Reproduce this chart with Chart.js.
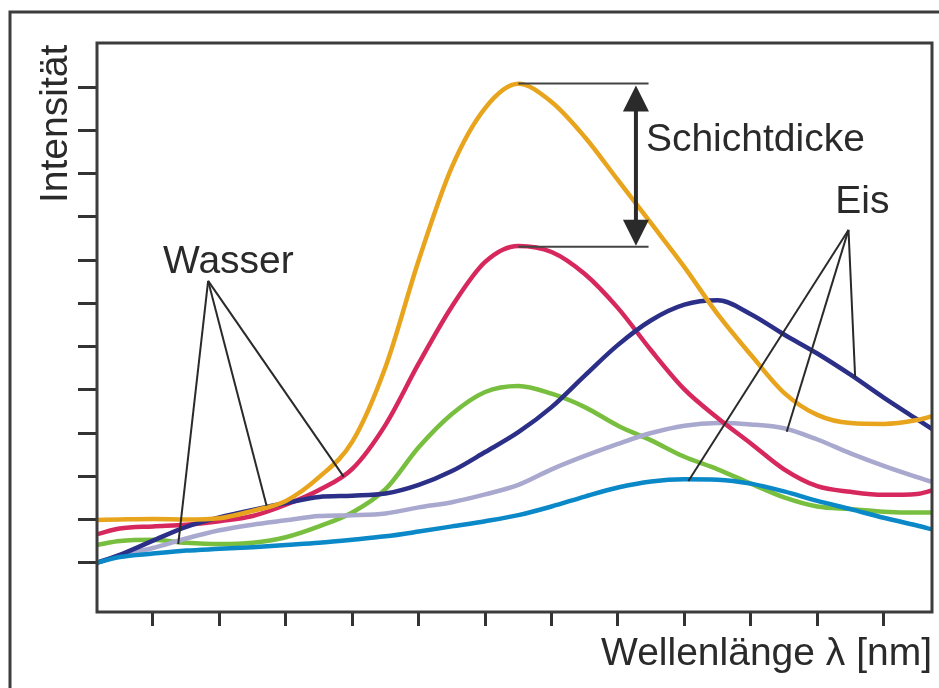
<!DOCTYPE html>
<html><head><meta charset="utf-8">
<script src="https://cdn.jsdelivr.net/npm/chart.js@4.4.1/dist/chart.umd.min.js"></script>
<style>html,body{margin:0;padding:0;background:#fff}canvas{display:block}</style>
</head><body>
<canvas id="c" width="939" height="688"></canvas>
<script>
// Wavelength positions (arbitrary units, x ticks at 1..12)
const wavelength = [0.16,0.5,1,1.5,2,2.5,3,3.5,4,4.5,5,5.5,6,6.5,7,7.5,8,8.5,9,9.5,10,10.5,11,11.5,12,12.5,12.73];
// Wasser (water) spectra
const wasserDick   = [1.99,2.00,2.01,2.00,2.03,2.20,2.43,2.98,3.80,5.53,8.00,10.16,11.52,12.08,11.66,10.85,9.85,8.85,7.84,6.75,5.81,4.93,4.42,4.23,4.21,4.30,4.39];
const wasserMittel = [1.66,1.79,1.84,1.88,1.96,2.08,2.34,2.68,3.17,4.19,5.61,6.93,7.96,8.33,8.19,7.68,6.89,5.91,5.01,4.35,3.76,3.16,2.77,2.64,2.57,2.59,2.67];
const wasserDuenn  = [1.41,1.50,1.53,1.46,1.43,1.46,1.59,1.84,2.16,2.70,3.67,4.44,4.95,5.09,4.91,4.60,4.17,3.83,3.45,3.16,2.83,2.51,2.30,2.24,2.18,2.16,2.16];
// Eis (ice) spectra
const eisDick   = [1.00,1.18,1.51,1.83,2.05,2.22,2.38,2.52,2.55,2.60,2.80,3.12,3.56,4.02,4.60,5.33,6.04,6.61,6.97,7.07,6.75,6.28,5.84,5.35,4.82,4.32,4.09];
const eisMittel = [1.00,1.17,1.34,1.56,1.75,1.88,1.98,2.08,2.10,2.14,2.28,2.40,2.58,2.80,3.16,3.47,3.75,4.00,4.17,4.23,4.20,4.11,3.85,3.53,3.24,2.98,2.87];
const eisDuenn  = [1.00,1.13,1.21,1.28,1.32,1.36,1.41,1.46,1.53,1.61,1.72,1.84,1.96,2.10,2.30,2.53,2.74,2.88,2.93,2.92,2.83,2.65,2.43,2.24,2.04,1.86,1.77];
// Tick positions
const xTicks = [1,2,3,4,5,6,7,8,9,10,11,12];
const yTicks = [1,2,3,4,5,6,7,8,9,10,11,12];
// Annotation anchor points (data units)
const wasserText = [1.151, 7.71];
const wasserApex = [1.83, 7.52];
const wasserTargets = [[1.38,1.43],[2.71,2.32],[3.87,2.99]];
const eisText = [11.27, 9.08];
const eisApex = [11.47, 8.70];
const eisTargets = [[9.06,2.89],[10.54,4.03],[11.57,5.29]];
const schichtText = [8.42, 10.53];
const schichtTop = 12.09, schichtBottom = 8.31, schichtLeft = 6.50, schichtRight = 8.46, schichtArrowX = 8.27;

const FONT = '39px "Liberation Sans", Arial, Helvetica, sans-serif';
const INK = '#2a2a2a';

const series = [
  {label:'Eis dünn', data:eisDuenn, color:'#0A88C8'},
  {label:'Wasser dick', data:wasserDick, color:'#E8A41C'},
  {label:'Eis dick', data:eisDick, color:'#2B2F87'},
  {label:'Wasser mittel', data:wasserMittel, color:'#D7285E'},
  {label:'Eis mittel', data:eisMittel, color:'#A9A8CF'},
  {label:'Wasser dünn', data:wasserDuenn, color:'#79BF3F'}
];

const annot = {
  id:'annot',
  beforeDraw(chart){
    const c = chart.ctx;
    c.save();
    c.strokeStyle = '#3c3c3c'; c.lineWidth = 3;
    c.beginPath(); c.moveTo(10, 688); c.lineTo(10, 12); c.lineTo(939, 12); c.stroke();
    c.restore();
  },
  afterDatasetsDraw(chart){
    const c = chart.ctx, xs = chart.scales.x, ys = chart.scales.y, a = chart.chartArea;
    const P = (p)=>[xs.getPixelForValue(p[0]), ys.getPixelForValue(p[1])];
    c.save();
    // plot frame
    c.strokeStyle = '#3c3c3c'; c.lineWidth = 3;
    c.strokeRect(a.left, a.top, a.right - a.left, a.bottom - a.top);
    // pointer lines
    c.strokeStyle = INK; c.lineWidth = 2;
    const fan = (apex, targets)=>{
      const ap = P(apex);
      targets.forEach(t=>{ const tp = P(t); c.beginPath(); c.moveTo(ap[0], ap[1]); c.lineTo(tp[0], tp[1]); c.stroke(); });
    };
    fan(wasserApex, wasserTargets);
    fan(eisApex, eisTargets);
    // Schichtdicke bracket
    const yt = ys.getPixelForValue(schichtTop), yb = ys.getPixelForValue(schichtBottom);
    const xl = xs.getPixelForValue(schichtLeft), xr = xs.getPixelForValue(schichtRight);
    const xa = xs.getPixelForValue(schichtArrowX);
    c.strokeStyle = '#444'; c.lineWidth = 2;
    c.beginPath(); c.moveTo(xl, yt); c.lineTo(xr, yt); c.moveTo(xl, yb); c.lineTo(xr, yb); c.stroke();
    c.strokeStyle = INK; c.fillStyle = INK; c.lineWidth = 4;
    c.beginPath(); c.moveTo(xa, yt + 20); c.lineTo(xa, yb - 20); c.stroke();
    c.beginPath(); c.moveTo(xa, yt + 2); c.lineTo(xa - 13, yt + 28); c.lineTo(xa + 13, yt + 28); c.closePath(); c.fill();
    c.beginPath(); c.moveTo(xa, yb - 1); c.lineTo(xa - 13, yb - 27); c.lineTo(xa + 13, yb - 27); c.closePath(); c.fill();
    // labels
    c.font = FONT; c.fillStyle = INK; c.textBaseline = 'alphabetic'; c.textAlign = 'left';
    let p = P(wasserText); c.fillText('Wasser', p[0], p[1]);
    p = P(eisText); c.fillText('Eis', p[0], p[1]);
    p = P(schichtText); c.fillText('Schichtdicke', p[0], p[1]);
    // axis titles
    c.textAlign = 'right';
    c.fillText('Wellenlänge λ [nm]', a.right, a.bottom + 52.7);
    c.translate(a.left - 30.3, 203);
    c.rotate(-Math.PI/2);
    c.textAlign = 'left';
    c.fillText('Intensität', 0, 0);
    c.restore();
  }
};

new Chart(document.getElementById('c'), {
  type:'line',
  data:{
    datasets: series.map((s,i)=>({
      label:s.label,
      data: wavelength.map((x,k)=>({x:x, y:s.data[k]})),
      borderColor:s.color, backgroundColor:s.color,
      borderWidth:4.5, pointRadius:0, cubicInterpolationMode:'monotone', fill:false, order:i,
      borderCapStyle:'round', borderJoinStyle:'round'
    }))
  },
  options:{
    responsive:false, animation:false, devicePixelRatio:1,
    layout:{padding:{left:0, top:43, right:7, bottom:0}},
    plugins:{legend:{display:false}, tooltip:{enabled:false}, title:{display:false}},
    scales:{
      x:{type:'linear', min:0.157, max:12.727,
         afterBuildTicks:(s)=>{ s.ticks = xTicks.map(v=>({value:v})); },
         afterFit:(s)=>{ s.height = 76; },
         ticks:{display:false},
         grid:{display:true, drawOnChartArea:false, drawTicks:true, tickLength:14, tickWidth:3, tickColor:'#333'},
         border:{display:false}},
      y:{type:'linear', min:-0.141, max:13.025,
         afterBuildTicks:(s)=>{ s.ticks = yTicks.map(v=>({value:v})); },
         afterFit:(s)=>{ s.width = 97; },
         ticks:{display:false},
         grid:{display:true, drawOnChartArea:false, drawTicks:true, tickLength:19, tickWidth:3, tickColor:'#333'},
         border:{display:false}}
    }
  },
  plugins:[annot]
});
</script>
</body></html>
